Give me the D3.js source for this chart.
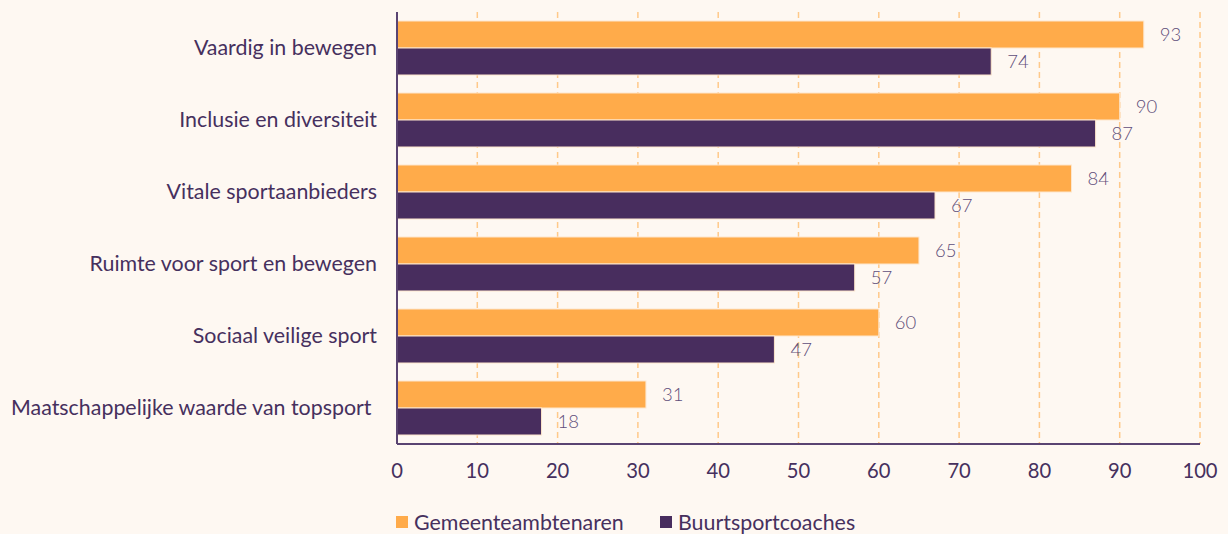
<!DOCTYPE html>
<meta charset="utf-8">
<script src="https://cdn.jsdelivr.net/npm/d3@7"></script>
<style>
  body { margin: 0; background: #fef8f2; }
  text { font-family: Lato, "Noto Sans", sans-serif; }
</style>
<div id="chart"></div>
<script>
  // data
  const categories = [
    "Vaardig in bewegen",
    "Inclusie en diversiteit",
    "Vitale sportaanbieders",
    "Ruimte voor sport en bewegen",
    "Sociaal veilige sport",
    "Maatschappelijke waarde van topsport "
  ];
  const seriesNames = ["Gemeenteambtenaren", "Buurtsportcoaches"];
  const gemeente = [93, 90, 84, 65, 60, 31];
  const buurt = [74, 87, 67, 57, 47, 18];
  const ticks = [0, 10, 20, 30, 40, 50, 60, 70, 80, 90, 100];

  const colors = ["#ffab4a", "#482d5e"];
  const width = 1228, height = 534;
  const margin = {top: 12, right: 28, bottom: 90, left: 397};
  const innerW = width - margin.left - margin.right;
  const innerH = height - margin.top - margin.bottom;

  const svg = d3.select("#chart").append("svg")
    .attr("width", width).attr("height", height);
  svg.append("rect").attr("width", width).attr("height", height).attr("fill", "#fef8f2");

  const g = svg.append("g").attr("transform", `translate(${margin.left},${margin.top})`);

  const x = d3.scaleLinear().domain([0, 100]).range([0, innerW]);
  const y = d3.scaleBand().domain(categories).range([0, innerH]).paddingInner(0.25).paddingOuter(0.125);
  const ySub = d3.scaleBand().domain(seriesNames).range([0, y.bandwidth()]);

  // gridlines
  g.selectAll(".grid").data(ticks.filter(d => d > 0)).join("line")
    .attr("x1", d => x(d)).attr("x2", d => x(d))
    .attr("y1", 0).attr("y2", innerH)
    .attr("stroke", "#ffc98a").attr("stroke-width", 1.5)
    .attr("stroke-dasharray", "6,4");

  const data = categories.map((c, i) => ({c, vals: [gemeente[i], buurt[i]]}));

  const groups = g.selectAll(".cat").data(data).join("g")
    .attr("transform", d => `translate(0,${y(d.c)})`);

  groups.selectAll("rect").data(d => d.vals.map((v, k) => ({v, k}))).join("rect")
    .attr("x", 0)
    .attr("y", d => ySub(seriesNames[d.k]))
    .attr("width", d => x(d.v))
    .attr("height", ySub.bandwidth())
    .attr("fill", d => colors[d.k])
    .attr("stroke", "#fde6cc").attr("stroke-width", 1);

  groups.selectAll(".val").data(d => d.vals.map((v, k) => ({v, k}))).join("text")
    .attr("x", d => x(d.v) + 16)
    .attr("y", d => ySub(seriesNames[d.k]) + ySub.bandwidth() / 2)
    .attr("dy", "0.35em")
    .attr("fill", "#5e4e7a")
    .attr("font-size", 18.5)
    .attr("font-weight", 300)
    .text(d => d.v);

  // category labels
  g.selectAll(".cl").data(categories).join("text")
    .attr("x", -20)
    .attr("y", d => y(d) + y.bandwidth() / 2)
    .attr("dy", "0.35em")
    .attr("text-anchor", "end")
    .attr("fill", "#46305e")
    .attr("font-size", 21.4)
    .style("white-space", "pre")
    .text(d => d);

  // axes lines
  g.append("line").attr("x1", 0).attr("x2", 0).attr("y1", 0).attr("y2", innerH)
    .attr("stroke", "#5a4472").attr("stroke-width", 2);
  g.append("line").attr("x1", 0).attr("x2", innerW).attr("y1", innerH).attr("y2", innerH)
    .attr("stroke", "#5a4472").attr("stroke-width", 2);

  // tick labels
  g.selectAll(".tl").data(ticks).join("text")
    .attr("x", d => x(d))
    .attr("y", innerH + 27)
    .attr("dy", "0.35em")
    .attr("text-anchor", "middle")
    .attr("fill", "#46305e")
    .attr("font-size", 20.2)
    .text(d => d);

  // legend
  const legend = svg.append("g").attr("transform", `translate(396,522)`);
  const legX = [0, 264];
  seriesNames.forEach((s, i) => {
    legend.append("rect").attr("x", legX[i]).attr("y", -6).attr("width", 12).attr("height", 12)
      .attr("fill", colors[i]);
    legend.append("text").attr("x", legX[i] + 18).attr("y", 0).attr("dy", "0.35em")
      .attr("fill", "#46305e").attr("font-size", 21.4).text(s);
  });
</script>
